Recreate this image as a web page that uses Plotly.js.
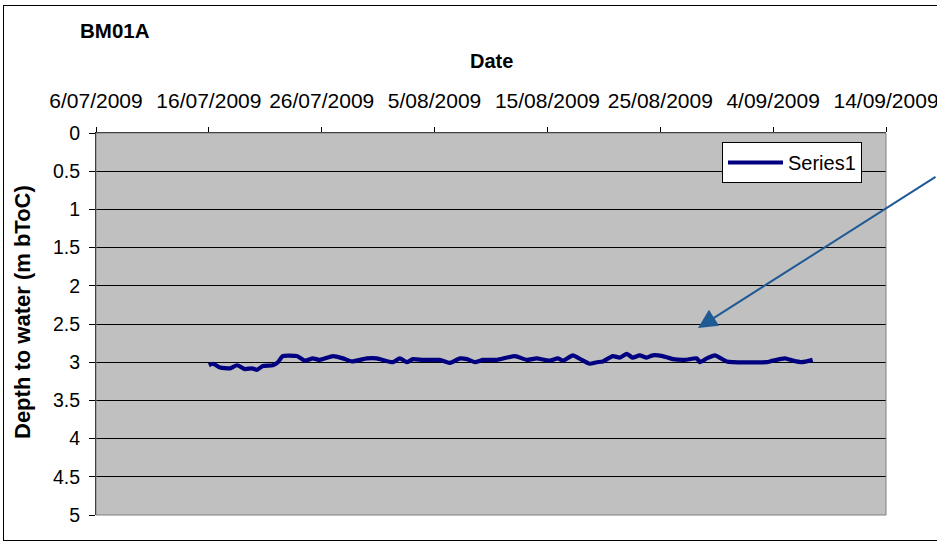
<!DOCTYPE html>
<html>
<head>
<meta charset="utf-8">
<script src="https://cdn.plot.ly/plotly-3.0.1.min.js"></script>
<style>
html, body { margin: 0; padding: 0; background: #fff; }
#wrap { position: relative; width: 937px; height: 542px; overflow: hidden; }
#chart { position: absolute; left: 0; top: 0; width: 937px; height: 542px; }
#frame { position: absolute; left: 3px; top: 5px; width: 950px; height: 534px; border: 1px solid #000; pointer-events: none; }
</style>
</head>
<body>
<div id="wrap"><div id="chart"></div><div id="frame"></div></div>
<script>
// Data
const dates = [
  "2009-07-16 00:00","2009-07-16 09:00","2009-07-17 00:00","2009-07-17 21:00","2009-07-18 12:00",
  "2009-07-19 05:00","2009-07-19 20:00","2009-07-20 06:00","2009-07-20 19:00","2009-07-21 16:00",
  "2009-07-22 03:00","2009-07-22 13:00","2009-07-23 19:00","2009-07-24 12:00","2009-07-25 05:00",
  "2009-07-25 20:00","2009-07-27 00:00","2009-07-27 21:00","2009-07-28 16:00","2009-07-30 00:00",
  "2009-07-30 21:00","2009-08-01 07:00","2009-08-01 22:00","2009-08-02 13:00","2009-08-03 02:00",
  "2009-08-03 23:00","2009-08-05 11:00","2009-08-06 09:00","2009-08-07 06:00","2009-08-07 21:00",
  "2009-08-08 14:00","2009-08-09 07:00","2009-08-10 12:00","2009-08-12 03:00","2009-08-13 04:00",
  "2009-08-14 01:00","2009-08-15 05:00","2009-08-15 22:00","2009-08-16 09:00","2009-08-17 06:00",
  "2009-08-18 01:00","2009-08-18 18:00","2009-08-19 09:00","2009-08-19 22:00","2009-08-20 19:00",
  "2009-08-21 10:00","2009-08-22 01:00","2009-08-22 13:00","2009-08-23 04:00","2009-08-23 19:00",
  "2009-08-24 08:00","2009-08-25 05:00","2009-08-26 03:00","2009-08-27 04:00","2009-08-28 06:00",
  "2009-08-28 12:00","2009-08-29 03:00","2009-08-29 20:00","2009-08-30 21:00","2009-08-31 10:00",
  "2009-09-03 10:00","2009-09-03 23:00","2009-09-05 01:00","2009-09-05 18:00","2009-09-06 13:00",
  "2009-09-07 12:00"
];
const depth = [
  3.04, 3.02, 3.07, 3.08, 3.04,
  3.09, 3.08, 3.10, 3.05, 3.04,
  3.00, 2.92, 2.92, 2.98, 2.95,
  2.97, 2.92, 2.95, 2.99, 2.95,
  2.95, 3.00, 2.95, 3.00, 2.96,
  2.97, 2.97, 3.01, 2.95, 2.96,
  3.00, 2.97, 2.97, 2.92, 2.97,
  2.95, 2.98, 2.95, 2.98, 2.91,
  2.97, 3.02, 3.00, 2.99, 2.92,
  2.94, 2.89, 2.94, 2.91, 2.94,
  2.91, 2.92, 2.96, 2.97, 2.95,
  3.00, 2.95, 2.91, 2.99, 3.00,
  3.00, 2.98, 2.95, 2.98, 3.00,
  2.97
];
const seriesName = "Series1";
const chartTitle = "BM01A";
const xTitle = "Date";
const yTitle = "Depth to water (m bToC)";
const xRange = ["2009-07-06", "2009-09-14"];
const yRange = [5, 0];

const FONT = "Liberation Sans, Arial, sans-serif";

const trace = {
  x: dates, y: depth, name: seriesName, type: "scatter", mode: "lines",
  line: { color: "#000080", width: 4.2, shape: "spline", smoothing: 0.5 }
};

const layout = {
  width: 937, height: 542,
  margin: { l: 96, r: 51, t: 133, b: 27 },
  paper_bgcolor: "#ffffff",
  plot_bgcolor: "#c0c0c0",
  font: { family: FONT, size: 19, color: "#000" },
  title: {
    text: "<b>" + chartTitle + "</b>",
    font: { family: FONT, size: 20.5, color: "#000" },
    xref: "container", yref: "container",
    x: 80 / 937, xanchor: "left",
    y: 1 - 31 / 542, yanchor: "middle"
  },
  xaxis: {
    type: "date", side: "top", range: xRange,
    tick0: "2009-07-06", dtick: 864000000,
    tickformat: "%-d/%m/%Y",
    ticks: "outside", ticklen: 5, tickcolor: "#000", tickwidth: 1,
    showgrid: false, zeroline: false,
    showline: true, linecolor: "#000", linewidth: 1,
    tickfont: { family: FONT, size: 21, color: "#000" },
    ticklabelstandoff: 11,
    ticklabeloverflow: "allow"
  },
  yaxis: {
    range: yRange, dtick: 0.5, tick0: 0,
    ticks: "outside", ticklen: 6, tickcolor: "#000", tickwidth: 1,
    showgrid: true, gridcolor: "#000", gridwidth: 1,
    zeroline: false,
    showline: true, linecolor: "#000", linewidth: 1,
    tickfont: { family: FONT, size: 19.5, color: "#000" },
    ticklabelstandoff: 5
  },
  showlegend: true,
  legend: {
    x: (722 - 96) / 790, y: (515 - 142) / 382,
    xanchor: "left", yanchor: "top",
    bgcolor: "#ffffff", bordercolor: "#000", borderwidth: 1,
    itemwidth: 55,
    font: { family: FONT, size: 20, color: "#000" }
  },
  shapes: [
    { type: "rect", xref: "paper", yref: "paper", x0: 0, x1: 1, y0: 0, y1: 1,
      line: { color: "#808080", width: 1 }, fillcolor: "rgba(0,0,0,0)", layer: "above" }
  ],
  annotations: [
    { text: "<b>" + xTitle + "</b>", xref: "paper", yref: "paper",
      x: 0.5, y: (515 - 61) / 382, xanchor: "center", yanchor: "middle",
      showarrow: false, font: { family: FONT, size: 20, color: "#000" } },
    { text: "<b>" + yTitle + "</b>", xref: "paper", yref: "paper",
      x: (22 - 96) / 790, y: (515 - 312) / 382, xanchor: "center", yanchor: "middle",
      textangle: -90, showarrow: false, font: { family: FONT, size: 22, color: "#000" } },
    { text: "", xref: "paper", yref: "paper",
      x: (698 - 96) / 790, y: (515 - 328) / 382,
      showarrow: true, axref: "pixel", ayref: "pixel", ax: 240, ay: -152,
      arrowhead: 2, arrowsize: 1.9, arrowwidth: 2, arrowcolor: "#1f5a94" }
  ]
};

Plotly.newPlot("chart", [trace], layout, { displayModeBar: false, staticPlot: true });
</script>
</body>
</html>
